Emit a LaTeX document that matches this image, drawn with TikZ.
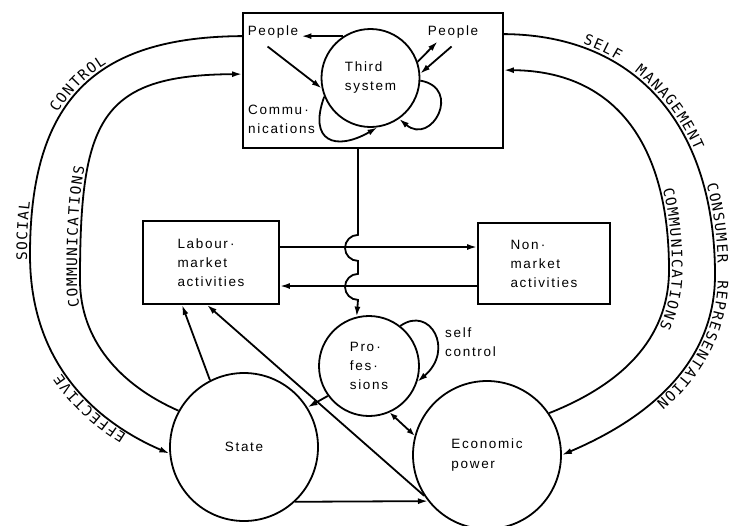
\documentclass[tikz,border=0pt]{standalone}
\usepackage{fontspec}
\setmainfont{Liberation Sans}[LetterSpace=12.5]
\newfontfamily\arcfont{DejaVu Sans Mono}
\usetikzlibrary{arrows.meta,decorations.text,calc}
\tikzset{
  lw/.style={line width=1.8pt},
  arr/.style={lw,-{Latex[length=10pt,width=6pt]}},
  rarr/.style={lw,{Latex[length=10pt,width=6pt]}-},
  dblarr/.style={lw,{Latex[length=8pt,width=6pt]}-{Latex[length=8pt,width=6pt]}},
  txt/.style={font=\fontsize{13.5}{19}\selectfont,align=left,inner sep=0pt},
  boxnode/.style={txt,draw,lw},
  circnode/.style={txt,draw,lw,circle},
  arcword/.style n args={3}{postaction={decorate,decoration={text along path,
     text={|\arcfont\fontsize{14.5}{15}\selectfont\kern1.3pt|#1},text align={left indent=#2pt},raise=#3pt}}}
}
\begin{document}
\begin{tikzpicture}[x=1pt,y=1pt]
\useasboundingbox (0,0) rectangle (735,-525);

% nodes
\node[boxnode,minimum width=260,minimum height=135] (top) at (373,-80.5) {};
\node[circnode,minimum size=98] (third) at (370.5,-78) {Third\\system};
\node[txt] (peopleL) at (273,-32) {People};
\node[txt] (peopleR) at (453,-32) {People};
\node[txt,anchor=west] (comm) at (248,-119) {Commu\,·\\nications};
\node[boxnode,minimum width=136,minimum height=83] (labour) at (211,-262.5) {Labour\,·\\market\\activities};
\node[boxnode,minimum width=132,minimum height=81] (nonmkt) at (544,-263.5) {Non\,·\\market\\activities};
\node[circnode,minimum size=100] (prof) at (369,-366) {Pro\,·\\fes\,·\\sions};
\node[circnode,minimum size=148] (state) at (244,-447) {State};
\node[circnode,minimum size=148] (econ) at (487,-455) {Economic\\power};
\node[txt,anchor=west] (selfc) at (445,-342) {self\\control};

% helper coordinates
\coordinate (L1) at (30,-255);
\coordinate (L2) at (80,-280);
\coordinate (R1) at (715,-275);
\coordinate (R2) at (669,-270);
\coordinate (lnA) at ([yshift=15.5]labour.east);
\coordinate (lnB) at ([yshift=-22.5]nonmkt.west);

% third system box internals
\draw[arr] (third.123) -- ($(third.123 -| peopleL.east)+(3,0)$);
\draw[arr] ([shift={(20,-8)}]peopleL.south west) -- (third.192);
\draw[arr] (third.202) to[out=250,in=210,looseness=2] (third.-82);
\draw[arr] (third.-3) to[out=-10,in=-40,looseness=2.5] (third.-55);
\draw[arr] (third.19) -- ([shift={(10,-3)}]peopleR.south west);
\draw[arr] ([shift={(24,-8)}]peopleR.south west) -- (third.5);

% top box down to professions, hopping over the two lines
\draw[arr] ([xshift=-15]top.south) -- ++(0,-86)
   arc[start angle=90,end angle=270,radius=13] -- ++(0,-13)
   arc[start angle=90,end angle=270,radius=13] -- (prof.104);

% labour <-> non-market
\draw[arr] (lnA) -- (lnA -| nonmkt.west);
\draw[arr] (lnB) -- (lnB -| labour.east);

% lower connectors
\draw[arr] (state.117) -- ([xshift=-29]labour.south);
\draw[arr] (econ.213) -- ([xshift=-4]labour.south);
\draw[arr] (prof.216) -- (state.32);
\draw[dblarr] (prof.-66) -- (econ.165);
\draw[arr] (prof.52) .. controls (430,-305) and (455,-350) .. (prof.-18);
\draw[arr] (state.-47) -- (econ.218);

% big arcs
\draw[rarr,arcword={EFFECTIVE}{45}{3},arcword={SOCIAL}{252}{3},arcword={CONTROL}{403}{3}]
  (state.185) .. controls (110,-428) and (30,-375) .. (L1)
  .. controls (30,-100) and (95,-37) .. ([yshift=-24]top.north west);
\draw[arr,arcword={COMMUNICATIONS}{146}{3}]
  (state.151) .. controls (120,-385) and (80,-340) .. (L2)
  .. controls (80,-120) and (100,-75) .. ([yshift=-62]top.north west);
\draw[arr,arcword={SELF}{78}{3},arcword={MANAGEMENT}{136}{3},arcword={CONSUMER}{270}{3},arcword={REPRESENTATION}{366}{3}]
  ([yshift=-22]top.north east) .. controls (640,-35) and (715,-130) .. (R1)
  .. controls (715,-380) and (620,-430) .. (econ.0);
\draw[rarr,arcword={COMMUNICATIONS}{213}{3}]
  ([yshift=-58]top.north east) .. controls (612,-71) and (669,-140) .. (R2)
  .. controls (669,-340) and (620,-385) .. (econ.34);
\end{tikzpicture}
\end{document}
